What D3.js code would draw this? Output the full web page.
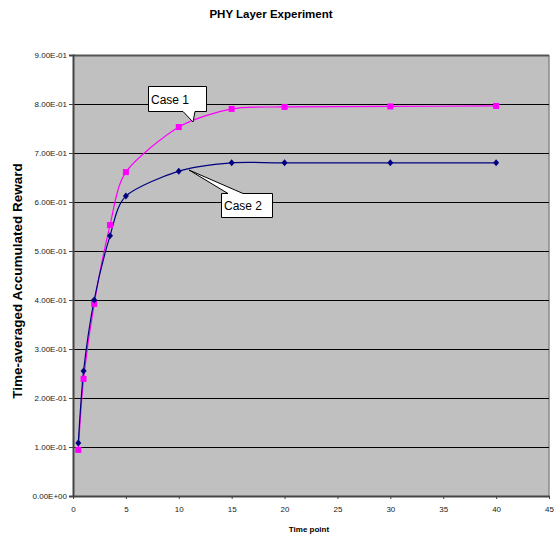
<!DOCTYPE html>
<html>
<head>
<meta charset="utf-8">
<script src="https://cdn.jsdelivr.net/npm/d3@7"></script>
<style>
  body { margin: 0; background: #fff; }
  text { font-family: "Liberation Sans", Arial, sans-serif; }
</style>
</head>
<body>
<div id="chart"></div>
<script>
const timePoints = [0.5, 1, 2, 3.5, 5, 10, 15, 20, 30, 40]
const case1 = [0.094, 0.239, 0.392, 0.553, 0.661, 0.753, 0.790, 0.794, 0.795, 0.796]
const case2 = [0.108, 0.255, 0.400, 0.531, 0.612, 0.663, 0.680, 0.680, 0.680, 0.680]
const xTicks = [0, 5, 10, 15, 20, 25, 30, 35, 40, 45]
const yTicks = [0, 0.1, 0.2, 0.3, 0.4, 0.5, 0.6, 0.7, 0.8, 0.9]

const width = 554
const height = 538
const margin = { top: 55, right: 5, bottom: 42, left: 73 }
const innerW = 549 - margin.left
const innerH = 496 - margin.top

const svg = d3.select("#chart")
  .append("svg")
  .attr("width", width)
  .attr("height", height)

svg.append("text")
  .attr("x", 271)
  .attr("y", 18)
  .attr("text-anchor", "middle")
  .style("font-size", "11.5px")
  .style("font-weight", "bold")
  .text("PHY Layer Experiment")

const g = svg.append("g")
  .attr("transform", `translate(${margin.left},${margin.top})`)

const x = d3.scaleLinear().domain([0, 45]).range([0, innerW])
const y = d3.scaleLinear().domain([0, 0.9]).range([innerH, 0])

// plot area
g.append("rect")
  .attr("width", innerW)
  .attr("height", innerH)
  .attr("fill", "#c0c0c0")

g.append("line")
  .attr("x1", innerW).attr("x2", innerW)
  .attr("y1", 0).attr("y2", innerH)
  .attr("stroke", "#8a8a8a")
  .attr("stroke-width", 1.5)

// gridlines
g.selectAll(".grid")
  .data(yTicks.filter(d => d > 0))
  .enter()
  .append("line")
  .attr("x1", 0)
  .attr("x2", innerW)
  .attr("y1", d => Math.round(y(d)) + 0.5)
  .attr("y2", d => Math.round(y(d)) + 0.5)
  .attr("stroke", d => d === 0.9 ? "#555" : "#000")
  .attr("stroke-width", d => d === 0.9 ? 2 : 1)

// axes
const yAxis = g.append("g")
  .call(d3.axisLeft(y).tickValues(yTicks).tickSize(4).tickFormat(d => d.toExponential(2).replace("e-", "E-0").replace("e+", "E+0")))
yAxis.select(".domain").attr("stroke", "#444").attr("stroke-width", 2)
yAxis.selectAll(".tick line").attr("stroke", "#444")
yAxis.selectAll(".tick text")
  .style("font-size", "8px")
  .attr("fill", "#222")
  .attr("x", -6)

const xAxis = g.append("g")
  .attr("transform", `translate(0,${innerH})`)
  .call(d3.axisBottom(x).tickValues(xTicks).tickSize(3).tickSizeOuter(0))
xAxis.select(".domain").attr("stroke", "#444").attr("stroke-width", 2)
xAxis.selectAll(".tick line").attr("stroke", "#444")
xAxis.selectAll(".tick text")
  .style("font-size", "8px")
  .attr("fill", "#222")
  .attr("y", 10)

svg.append("text")
  .attr("x", 309)
  .attr("y", 532)
  .attr("text-anchor", "middle")
  .style("font-size", "8px")
  .style("font-weight", "bold")
  .text("Time point")

svg.append("text")
  .attr("transform", "translate(22,281) rotate(-90)")
  .attr("text-anchor", "middle")
  .style("font-size", "13.5px")
  .style("font-weight", "bold")
  .text("Time-averaged Accumulated Reward")

// lines
const line = d3.line()
  .x((d, i) => x(timePoints[i]))
  .y(d => y(d))
  .curve(d3.curveCardinal.tension(0.2))

g.append("path")
  .datum(case1)
  .attr("d", line)
  .attr("fill", "none")
  .attr("stroke", "#ff00ff")
  .attr("stroke-width", 1.2)

g.append("path")
  .datum(case2)
  .attr("d", line)
  .attr("fill", "none")
  .attr("stroke", "#000080")
  .attr("stroke-width", 1.2)

g.selectAll(".sq")
  .data(case1)
  .enter()
  .append("rect")
  .attr("x", (d, i) => x(timePoints[i]) - 3)
  .attr("y", d => y(d) - 3)
  .attr("width", 6)
  .attr("height", 6)
  .attr("fill", "#ff00ff")

g.selectAll(".dm")
  .data(case2)
  .enter()
  .append("path")
  .attr("transform", (d, i) => `translate(${x(timePoints[i])},${y(d)})`)
  .attr("d", "M0,-3.5L3,0L0,3.5L-3,0Z")
  .attr("fill", "#000080")

// callouts
const callout = (pts, label, tx, ty) => {
  svg.append("path")
    .attr("d", "M" + pts.map(p => p.join(",")).join("L") + "Z")
    .attr("fill", "#fff")
    .attr("stroke", "#000")
    .attr("stroke-width", 1)
  svg.append("text")
    .attr("x", tx)
    .attr("y", ty)
    .style("font-size", "12px")
    .text(label)
}

callout([[148.5, 86.5], [206.5, 86.5], [206.5, 111.5], [195, 111.5], [193, 122], [183, 111.5], [148.5, 111.5]], "Case 1", 151, 104)
callout([[221.5, 193.5], [228, 193.5], [189, 170], [243, 193.5], [272.5, 193.5], [272.5, 217.5], [221.5, 217.5]], "Case 2", 224, 210)
</script>
</body>
</html>
